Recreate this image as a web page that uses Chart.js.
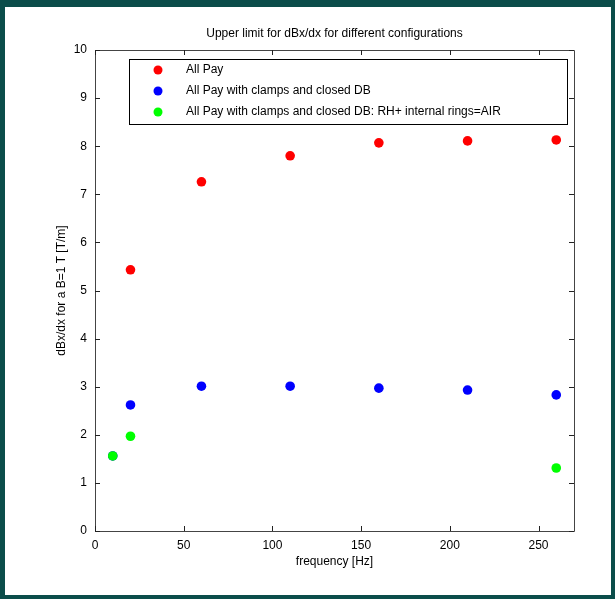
<!DOCTYPE html>
<html lang="en">
  <head>
    <meta charset="UTF-8" />
    <script src="https://cdn.jsdelivr.net/npm/chart.js"></script>
    <title>Upper limit for dBx/dx</title>
    <style>
      html, body { margin: 0; padding: 0; background: #0b4d4a; }
      #wrap { width: 615px; height: 599px; }
    </style>
  </head>

  <body>
    <div id="wrap"><canvas id="myChart" width="615" height="599"></canvas></div>
    <script>
      // data
      const freqAllPay = [20, 60, 110, 160, 210, 260];
      const allPay = [5.43, 7.26, 7.80, 8.07, 8.11, 8.13];

      const freqClamps = [10, 20, 60, 110, 160, 210, 260];
      const clamps = [1.56, 2.62, 3.01, 3.01, 2.97, 2.93, 2.83];

      const freqAir = [10, 20, 260];
      const air = [1.56, 1.97, 1.31];

      const xTicks = [0, 50, 100, 150, 200, 250];
      const yTicks = [0, 1, 2, 3, 4, 5, 6, 7, 8, 9, 10];

      const labels = [
        "All Pay",
        "All Pay with clamps and closed DB",
        "All Pay with clamps and closed DB: RH+ internal rings=AIR",
      ];
      const titleText = "Upper limit for dBx/dx for different configurations";
      const xTitle = "frequency [Hz]";
      const yTitle = "dBx/dx for a B=1 T [T/m]";

      const FONT = "Arial, 'Liberation Sans', sans-serif";

      function pts(xs, ys) {
        return xs.map((x, i) => ({ x: x, y: ys[i] }));
      }

      // white panel, box, inward ticks, title, axis titles, legend
      const matlabLook = {
        id: "matlabLook",
        beforeDraw(chart) {
          const ctx = chart.ctx;
          ctx.save();
          ctx.fillStyle = "#0b4d4a";
          ctx.fillRect(0, 0, chart.width, chart.height);
          ctx.fillStyle = "#ffffff";
          ctx.fillRect(5, 7, 606, 588);
          ctx.restore();
        },
        afterDatasetsDraw(chart) {
          const ctx = chart.ctx;
          const a = chart.chartArea;
          const xs = chart.scales.x, ys = chart.scales.y;
          ctx.save();
          ctx.strokeStyle = "#444";
          ctx.lineWidth = 1;
          ctx.beginPath();
          ctx.rect(Math.round(a.left) + 0.5, Math.round(a.top) + 0.5,
                   Math.round(a.right - a.left), Math.round(a.bottom - a.top));
          ctx.stroke();
          ctx.strokeStyle = "#222";
          ctx.beginPath();
          xTicks.forEach(v => {
            const px = Math.round(xs.getPixelForValue(v)) + 0.5;
            ctx.moveTo(px, a.bottom); ctx.lineTo(px, a.bottom - 5);
            ctx.moveTo(px, a.top); ctx.lineTo(px, a.top + 5);
          });
          yTicks.forEach(v => {
            const py = Math.round(ys.getPixelForValue(v)) + 0.5;
            ctx.moveTo(a.left, py); ctx.lineTo(a.left + 5, py);
            ctx.moveTo(a.right, py); ctx.lineTo(a.right - 5, py);
          });
          ctx.stroke();

          // titles
          ctx.fillStyle = "#000";
          ctx.font = "12px " + FONT;
          ctx.textAlign = "center";
          ctx.textBaseline = "middle";
          ctx.fillText(titleText, (a.left + a.right) / 2, 34);
          ctx.fillText(xTitle, (a.left + a.right) / 2, 562);
          ctx.save();
          ctx.translate(62, (a.top + a.bottom) / 2);
          ctx.rotate(-Math.PI / 2);
          ctx.fillText(yTitle, 0, 0);
          ctx.restore();

          // legend box
          const bx = 129, by = 59, bw = 438, bh = 65;
          ctx.fillStyle = "#fff";
          ctx.fillRect(bx, by, bw, bh);
          ctx.strokeStyle = "#000";
          ctx.strokeRect(bx + 0.5, by + 0.5, bw, bh);
          const rowY = [70, 91, 112];
          chart.data.datasets.forEach((ds, i) => {
            ctx.fillStyle = ds.backgroundColor;
            ctx.beginPath();
            ctx.arc(158, rowY[i], 4.5, 0, Math.PI * 2);
            ctx.fill();
            ctx.fillStyle = "#000";
            ctx.textAlign = "left";
            ctx.fillText(ds.label, 186, rowY[i]);
          });
          ctx.restore();
        },
      };

      const config = {
        type: "scatter",
        data: {
          datasets: [
            { label: labels[0], data: pts(freqAllPay, allPay), backgroundColor: "#ff0000", borderColor: "#ff0000", order: 2 },
            { label: labels[1], data: pts(freqClamps, clamps), backgroundColor: "#0000ff", borderColor: "#0000ff", order: 1 },
            { label: labels[2], data: pts(freqAir, air), backgroundColor: "#00ff00", borderColor: "#00ff00", order: 0 },
          ],
        },
        options: {
          responsive: false,
          animation: false,
          elements: { point: { radius: 4.8, borderWidth: 0, hoverRadius: 4.8 } },
          layout: { padding: { top: 50, right: 41, left: 0, bottom: 0 } },
          plugins: { legend: { display: false }, title: { display: false }, tooltip: { enabled: false } },
          scales: {
            x: {
              type: "linear",
              min: 0,
              max: 270,
              afterBuildTicks: (s) => { s.ticks = xTicks.map(v => ({ value: v })); },
              afterFit: (s) => { s.height = 68; },
              grid: { display: false, drawTicks: false },
              border: { display: false },
              ticks: { color: "#000", padding: 7, maxRotation: 0, font: { size: 12, family: FONT } },
            },
            y: {
              min: 0,
              max: 10,
              afterBuildTicks: (s) => { s.ticks = yTicks.map(v => ({ value: v })); },
              afterFit: (s) => { s.width = 95; },
              grid: { display: false, drawTicks: false },
              border: { display: false },
              ticks: { color: "#000", padding: 8, font: { size: 12, family: FONT } },
            },
          },
        },
        plugins: [matlabLook],
      };

      var myChart = new Chart(document.getElementById("myChart"), config);
    </script>
  </body>
</html>
